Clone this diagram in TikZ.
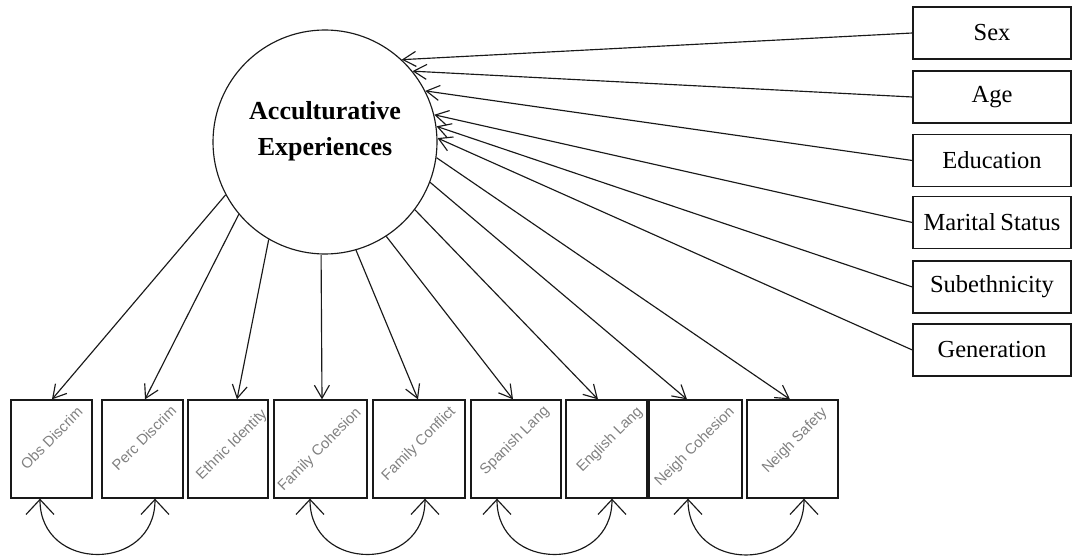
\documentclass[tikz,border=0pt]{standalone}
\usepackage{fontspec}
\setmainfont{Liberation Serif}
\newfontfamily\arialf{Liberation Sans}
\usetikzlibrary{arrows.meta}
\begin{document}
\begin{tikzpicture}[x=1pt,y=-1pt,
  box/.style={draw=black!90, line width=1.3pt, rectangle, inner sep=0pt, minimum height=52pt, minimum width=158pt, font=\fontsize{24.5}{28}\selectfont},
  obsbox/.style={draw=black!90, line width=1.3pt, rectangle, inner sep=0pt, minimum height=98pt},
  lab/.style={rotate=45, text=black!50, inner sep=0pt, font=\arialf\fontsize{14.8}{16}\selectfont},
  lnk/.style={draw=black!90, line width=1.15pt, -{Straight Barb[length=13pt,width=15pt]}},
  cov/.style={draw=black!90, line width=1.15pt, {Straight Barb[length=15pt,width=28pt]}-{Straight Barb[length=15pt,width=28pt]}, looseness=1.65}
]
\useasboundingbox (0,0) rectangle (1072,556);

% latent
\node[circle, draw=black!90, line width=1.15pt, minimum size=224pt, inner sep=0pt] (ae) at (325,142) {};
\node[align=center, inner sep=0pt, font=\bfseries\fontsize{26}{36}\selectfont] (aet) at (325,131) {Acculturative\\Experiences};

% covariates
\node[box] (sex) at (992,33) {Sex};
\node[box] (age) at (992,97) {Age};
\node[box] (edu) at (992,160.5) {Education};
\node[box] (mar) at (992,222.5) {Marital\hspace{-1.5pt} Status};
\node[box] (sub) at (992,287) {Subethnicity};
\node[box] (gen) at (992,350) {Generation};

\draw[lnk] (sex.west) -- (ae.47.5);
\draw[lnk] (age.west) -- (ae.39.7);
\draw[lnk] (edu.west) -- (ae.27.2);
\draw[lnk] (mar.west) -- (ae.14.8);
\draw[lnk] (sub.west) -- (ae.8.6);
\draw[lnk] (gen.west) -- (ae.2.5);

% indicators
\node[obsbox, minimum width=81pt] (od) at (51.5,449) {};
\node[obsbox, minimum width=81pt] (pd) at (142.5,449) {};
\node[obsbox, minimum width=80pt] (ei) at (228,449) {};
\node[obsbox, minimum width=93pt] (fch) at (320.5,449) {};
\node[obsbox, minimum width=92pt] (fcn) at (419,449) {};
\node[obsbox, minimum width=90pt] (sl) at (516,449) {};
\node[obsbox, minimum width=81pt] (el) at (606.5,449) {};
\node[obsbox, minimum width=93pt] (nc) at (695.5,449) {};
\node[obsbox, minimum width=91pt] (ns) at (792.5,449) {};

\node[lab] (odl) at (51.5,438) {Obs Discrim};
\node[lab] (pdl) at (144,438) {Perc Discrim};
\node[lab] (eil) at (232,445) {Ethnic Identity};
\node[lab] (fchl) at (320,450) {Family Cohesion};
\node[lab] (fcnl) at (419,444) {Family Conflict};
\node[lab] (sll) at (515,441) {Spanish Lang};
\node[lab] (ell) at (610,440) {English Lang};
\node[lab] (ncl) at (695,447) {Neigh Cohesion};
\node[lab] (nsl) at (795,441) {Neigh Safety};

\draw[lnk] (ae.208.6) -- ([xshift=0.5pt]od.north);
\draw[lnk] (ae.220) -- ([xshift=2.5pt]pd.north);
\draw[lnk] (ae.240.3) -- ([xshift=9pt]ei.north);
\draw[lnk] (ae.268.5) -- ([xshift=1.5pt]fch.north);
\draw[lnk] (ae.286.5) -- ([xshift=-1pt]fcn.north);
\draw[lnk] (ae.303.1) -- ([xshift=-3pt]sl.north);
\draw[lnk] (ae.323) -- ([xshift=-8.5pt]el.north);
\draw[lnk] (ae.339.8) -- ([xshift=-8.5pt]nc.north);
\draw[lnk] (ae.352.8) -- ([xshift=-2.5pt]ns.north);

% covariances
\coordinate (c1a) at ([xshift=-11.5pt]od.south);
\coordinate (c1b) at ([xshift=12.5pt]pd.south);
\coordinate (c2a) at ([xshift=-10.5pt]fch.south);
\coordinate (c2b) at ([xshift=6pt]fcn.south);
\coordinate (c3a) at ([xshift=-19pt]sl.south);
\coordinate (c3b) at ([xshift=5.5pt]el.south);
\coordinate (c4a) at ([xshift=-7.5pt]nc.south);
\coordinate (c4b) at ([xshift=11.5pt]ns.south);
\draw[cov] (c1a) to[out=-90,in=-90] (c1b);
\draw[cov] (c2a) to[out=-90,in=-90] (c2b);
\draw[cov] (c3a) to[out=-90,in=-90] (c3b);
\draw[cov] (c4a) to[out=-90,in=-90] (c4b);
\end{tikzpicture}
\end{document}
